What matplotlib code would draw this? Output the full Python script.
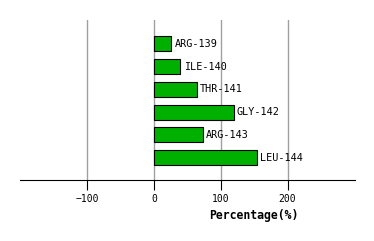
import matplotlib
matplotlib.use('Agg')
import matplotlib.pyplot as plt

# residue contributions (percentage)
residues = ['ARG-139', 'ILE-140', 'THR-141', 'GLY-142', 'ARG-143', 'LEU-144']
percentages = [26, 39.5, 63.5, 119, 72.5, 153.5]
xticks = [-100, 0, 100, 200]

W, H = 374, 241
fig = plt.figure(figsize=(W / 100, H / 100), dpi=100)
ax = fig.add_axes([20 / W, 60.7 / H, 335 / W, 160.3 / H])

pos = list(range(len(residues)))
ax.barh(pos, percentages, height=0.66, color='#00b000', edgecolor='black',
        linewidth=0.8, zorder=3)
for p, v, name in zip(pos, percentages, residues):
    ax.text(v + 5, p, name, va='center', ha='left', fontsize=7.3,
            family='DejaVu Sans Mono', zorder=4)

ax.set_xlim(-201, 301)
ax.set_ylim(len(residues) - 0.01, -1.04)
ax.set_xticks(xticks)
ax.set_xticklabels([str(t).replace('-', '\u2212') for t in xticks],
                   fontsize=7, family='DejaVu Sans Mono')
ax.set_yticks([])
ax.tick_params(axis='x', length=7, width=0.8, pad=3)
ax.grid(axis='x', color='#a0a0a0', linewidth=1, zorder=0)
for s in ['top', 'left', 'right']:
    ax.spines[s].set_visible(False)
ax.spines['bottom'].set_linewidth(0.8)

# x label sits centred over the positive half of the axis
ax.text(150, -0.18, 'Percentage(%)', transform=ax.get_xaxis_transform(),
        ha='center', va='top', fontsize=8.3, fontweight='bold',
        family='DejaVu Sans Mono')

fig.savefig('out.png', dpi=100)
